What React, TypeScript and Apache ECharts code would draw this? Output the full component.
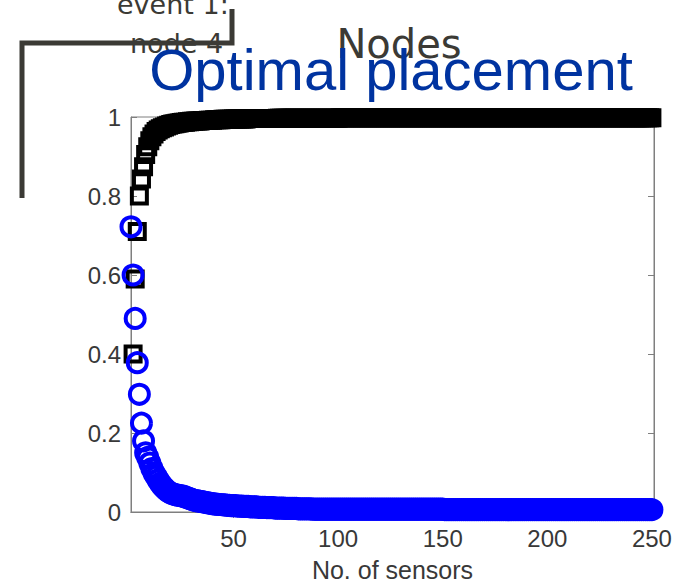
import React, { useEffect, useRef } from "react";
import * as echarts from "echarts";

// Sensor counts start at these values; one value per sensor count (step 1)
const blueStart = 1;
const blackStart = 2;

// Blue circles (x = 1..250)
const blueValues = [
  0.722, 0.600, 0.490, 0.378, 0.298, 0.225, 0.180, 0.150, 0.138, 0.124,
  0.110, 0.099, 0.090, 0.081, 0.073, 0.066, 0.060, 0.055, 0.051, 0.048,
  0.046, 0.044, 0.043, 0.042, 0.041, 0.040, 0.038, 0.036, 0.034, 0.032,
  0.030, 0.029, 0.028, 0.027, 0.026, 0.025, 0.024, 0.023, 0.022, 0.021,
  0.020, 0.020, 0.019, 0.019, 0.018, 0.018, 0.017, 0.017, 0.016, 0.016,
  0.016, 0.015, 0.015, 0.015, 0.014, 0.014, 0.014, 0.013, 0.013, 0.013,
  0.013, 0.012, 0.012, 0.012, 0.012, 0.011, 0.011, 0.011, 0.011, 0.010,
  0.010, 0.010, 0.010, 0.010, 0.009, 0.009, 0.009, 0.009, 0.009, 0.009,
  0.008, 0.008, 0.008, 0.008, 0.008, 0.008, 0.008, 0.007, 0.007, 0.007,
  0.007, 0.007, 0.007, 0.007, 0.007, 0.007, 0.007, 0.007, 0.007, 0.007,
  0.007, 0.007, 0.007, 0.007, 0.007, 0.007, 0.007, 0.007, 0.007, 0.007,
  0.007, 0.007, 0.007, 0.007, 0.007, 0.007, 0.007, 0.007, 0.007, 0.007,
  0.007, 0.007, 0.007, 0.007, 0.007, 0.007, 0.007, 0.007, 0.007, 0.007,
  0.007, 0.007, 0.007, 0.007, 0.007, 0.007, 0.007, 0.007, 0.007, 0.007,
  0.007, 0.007, 0.007, 0.007, 0.007, 0.007, 0.007, 0.007, 0.007, 0.007,
  0.006, 0.006, 0.006, 0.006, 0.006, 0.006, 0.006, 0.006, 0.006, 0.006,
  0.006, 0.006, 0.006, 0.006, 0.006, 0.006, 0.006, 0.006, 0.006, 0.006,
  0.006, 0.006, 0.006, 0.006, 0.006, 0.006, 0.006, 0.006, 0.006, 0.006,
  0.006, 0.006, 0.006, 0.006, 0.006, 0.006, 0.006, 0.006, 0.006, 0.006,
  0.006, 0.006, 0.006, 0.006, 0.006, 0.006, 0.006, 0.006, 0.006, 0.006,
  0.006, 0.006, 0.006, 0.006, 0.006, 0.006, 0.006, 0.006, 0.006, 0.006,
  0.006, 0.006, 0.006, 0.006, 0.006, 0.006, 0.006, 0.006, 0.006, 0.006,
  0.006, 0.006, 0.006, 0.006, 0.006, 0.006, 0.006, 0.006, 0.006, 0.006,
  0.006, 0.006, 0.006, 0.006, 0.006, 0.006, 0.006, 0.006, 0.006, 0.006,
  0.006, 0.006, 0.006, 0.006, 0.006, 0.006, 0.006, 0.006, 0.006, 0.006,
];

// Black squares (x = 2..250)
const blackValues = [
  0.400, 0.590, 0.710, 0.800, 0.843, 0.874, 0.905, 0.925, 0.940,
  0.950, 0.957, 0.963, 0.967, 0.970, 0.973, 0.975, 0.977, 0.979, 0.981,
  0.982, 0.983, 0.984, 0.985, 0.986, 0.987, 0.987, 0.988, 0.988, 0.989,
  0.989, 0.990, 0.990, 0.990, 0.991, 0.991, 0.991, 0.992, 0.992, 0.992,
  0.993, 0.993, 0.993, 0.993, 0.994, 0.994, 0.994, 0.994, 0.994, 0.995,
  0.995, 0.995, 0.995, 0.995, 0.995, 0.995, 0.996, 0.996, 0.996, 0.996,
  0.996, 0.996, 0.996, 0.996, 0.996, 0.996, 0.996, 0.996, 0.996, 0.996,
  0.997, 0.997, 0.997, 0.997, 0.997, 0.997, 0.997, 0.997, 0.997, 0.997,
  0.997, 0.997, 0.997, 0.997, 0.997, 0.997, 0.997, 0.997, 0.997, 0.997,
  0.997, 0.997, 0.997, 0.997, 0.997, 0.997, 0.997, 0.997, 0.997, 0.997,
  0.998, 0.998, 0.998, 0.998, 0.998, 0.998, 0.998, 0.998, 0.998, 0.998,
  0.998, 0.998, 0.998, 0.998, 0.998, 0.998, 0.998, 0.998, 0.998, 0.998,
  0.998, 0.998, 0.998, 0.998, 0.998, 0.998, 0.998, 0.998, 0.998, 0.998,
  0.998, 0.998, 0.998, 0.998, 0.998, 0.998, 0.998, 0.998, 0.998, 0.998,
  0.998, 0.998, 0.998, 0.998, 0.998, 0.998, 0.998, 0.998, 0.998, 0.998,
  0.998, 0.998, 0.998, 0.998, 0.998, 0.998, 0.998, 0.998, 0.998, 0.998,
  0.998, 0.998, 0.998, 0.998, 0.998, 0.998, 0.998, 0.998, 0.998, 0.998,
  0.998, 0.998, 0.998, 0.998, 0.998, 0.998, 0.998, 0.998, 0.998, 0.998,
  0.998, 0.998, 0.998, 0.998, 0.998, 0.998, 0.998, 0.998, 0.998, 0.998,
  0.998, 0.998, 0.998, 0.998, 0.998, 0.998, 0.998, 0.998, 0.998, 0.998,
  0.998, 0.998, 0.998, 0.998, 0.998, 0.998, 0.998, 0.998, 0.998, 0.998,
  0.998, 0.998, 0.998, 0.998, 0.998, 0.998, 0.998, 0.998, 0.998, 0.998,
  0.998, 0.998, 0.998, 0.998, 0.998, 0.998, 0.998, 0.998, 0.998, 0.998,
  0.998, 0.998, 0.998, 0.998, 0.998, 0.998, 0.998, 0.998, 0.998, 0.998,
  0.998, 0.998, 0.998, 0.998, 0.998, 0.998, 0.998, 0.998, 0.998, 0.998,
];

const xTicks = [50, 100, 150, 200, 250];
const xMin = 1;
const xMax = 251;
const xAxisName = "No. of sensors";
const titleText = "Optimal placement";
const nodesText = "Nodes";
const eventText = "event 1:";
const nodeText = "node 4";

const axisGray = "#7f7f7f";
const labelColor = "#383838";
const annoColor = "#3b3a35";
const sans = "'Liberation Sans', Arial, sans-serif";
const handFont = "'DejaVu Sans', sans-serif";

export default function App() {
  const ref = useRef<HTMLDivElement>(null);

  useEffect(() => {
    if (!ref.current) return;
    const chart = echarts.init(ref.current, undefined, { renderer: "svg" });

    const blueData = blueValues.map((v, i) => [blueStart + i, v]);
    const blackData = blackValues.map((v, i) => [blackStart + i, v]);

    const hiddenX = {
      type: "value" as const,
      min: xMin,
      max: xMax,
      position: "top" as const,
      axisLine: { show: true, lineStyle: { color: axisGray, width: 1 } },
      axisTick: { show: true, inside: true, length: 6, customValues: xTicks, lineStyle: { color: axisGray } },
      axisLabel: { show: false },
      splitLine: { show: false },
    };

    chart.setOption({
      animation: false,
      backgroundColor: "#ffffff",
      grid: {
        left: 131,
        top: 117,
        right: 40,
        bottom: 75,
        show: true,
        borderColor: axisGray,
        borderWidth: 1,
        backgroundColor: "transparent",
      },
      xAxis: [
        {
          type: "value",
          min: xMin,
          max: xMax,
          position: "bottom",
          axisLine: { show: true, lineStyle: { color: axisGray, width: 1 } },
          axisTick: { show: true, inside: true, length: 6, customValues: xTicks, lineStyle: { color: axisGray } },
          axisLabel: {
            customValues: xTicks,
            color: labelColor,
            fontSize: 24,
            fontFamily: sans,
            margin: 14,
          },
          splitLine: { show: false },
          name: xAxisName,
          nameLocation: "middle",
          nameGap: 45,
          nameTextStyle: { color: labelColor, fontSize: 25, fontFamily: sans },
        },
        hiddenX,
      ],
      yAxis: [
        {
          type: "value",
          min: 0,
          max: 1,
          interval: 0.2,
          position: "left",
          axisLine: { show: true, lineStyle: { color: axisGray, width: 1 } },
          axisTick: { show: true, inside: true, length: 6, lineStyle: { color: axisGray } },
          axisLabel: { color: labelColor, fontSize: 24, fontFamily: sans, margin: 10 },
          splitLine: { show: false },
        },
        {
          type: "value",
          min: 0,
          max: 1,
          interval: 0.2,
          position: "right",
          axisLine: { show: true, lineStyle: { color: axisGray, width: 1 } },
          axisTick: { show: true, inside: true, length: 6, lineStyle: { color: axisGray } },
          axisLabel: { show: false },
          splitLine: { show: false },
        },
      ],
      series: [
        {
          type: "scatter",
          xAxisIndex: 0,
          yAxisIndex: 0,
          data: blackData,
          symbol: "rect",
          symbolSize: 15,
          clip: false,
          silent: true,
          itemStyle: { color: "rgba(0,0,0,0)", borderColor: "#000000", borderWidth: 4, opacity: 1 },
          z: 3,
        },
        {
          type: "scatter",
          xAxisIndex: 0,
          yAxisIndex: 0,
          data: blueData,
          symbol: "circle",
          symbolSize: 19,
          clip: false,
          silent: true,
          itemStyle: { color: "rgba(0,0,0,0)", borderColor: "#0000ff", borderWidth: 4, opacity: 1 },
          z: 4,
        },
      ],
      graphic: [
        {
          type: "text",
          x: 117,
          y: 4.5,
          z: 50,
          style: { text: eventText, fill: annoColor, font: `27px ${handFont}`, align: "left", verticalAlign: "middle" },
        },
        {
          type: "text",
          x: 130,
          y: 43.5,
          z: 50,
          style: { text: nodeText, fill: annoColor, font: `27px ${handFont}`, align: "left", verticalAlign: "middle" },
        },
        {
          type: "polyline",
          z: 51,
          shape: { points: [[22, 198], [22, 43], [232, 43], [232, 9]] },
          style: { stroke: annoColor, lineWidth: 5, fill: "none", lineJoin: "miter", lineCap: "butt" },
        },
        {
          type: "text",
          x: 399,
          y: 44,
          z: 52,
          style: { text: nodesText, fill: annoColor, font: `40px ${handFont}`, align: "center", verticalAlign: "middle" },
        },
        {
          type: "text",
          x: 391,
          y: 69.5,
          z: 53,
          style: { text: titleText, fill: "#0033a0", font: `58px ${sans}`, align: "center", verticalAlign: "middle" },
        },
      ],
    });

    return () => chart.dispose();
  }, []);

  return (
    <div
      ref={ref}
      style={{ position: "fixed", left: 0, top: 0, width: 694, height: 587, background: "#ffffff" }}
    />
  );
}
